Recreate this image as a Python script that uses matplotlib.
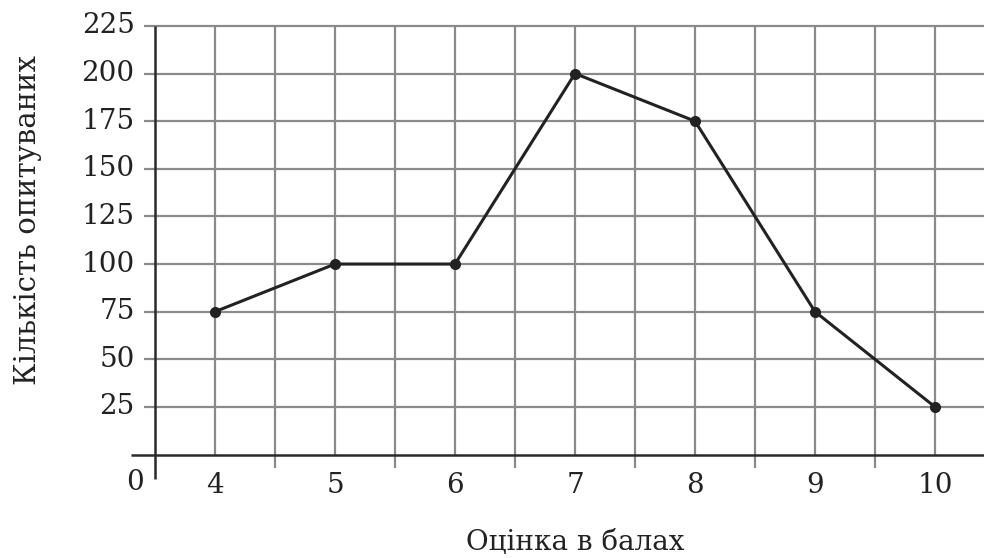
import matplotlib
matplotlib.use("Agg")
from matplotlib import pyplot as plt
import numpy as np

# scores and number of respondents
scores = [4, 5, 6, 7, 8, 9, 10]
counts = [75, 100, 100, 200, 175, 75, 25]
y_ticks = [25, 50, 75, 100, 125, 150, 175, 200, 225]

plt.rcParams.update({
    "font.size": 20,
    "font.family": ["DejaVu Serif"],
})

GRID = "#8a8a8a"
AXIS = "#2a2a2a"


def main():
    fig = plt.figure(figsize=(9.84, 5.58), dpi=100)
    ax = fig.add_axes([0, 0, 1, 1])
    # 120 px per score unit, 1.905 px per respondent
    ax.set_xlim(2.2083, 10.4083)
    ax.set_ylim(-54.3, 238.6)
    ax.axis("off")

    x_right = 10.5
    # horizontal grid, with little stubs left of the y axis
    ax.hlines(y_ticks, 3.408, x_right, color=GRID, lw=1.6, zorder=1)
    # vertical grid: integer lines stop at the x axis, half lines poke below it
    ax.vlines(scores, 0, 225, color=GRID, lw=1.6, zorder=1)
    halves = np.array(scores[:-1]) + 0.5
    ax.vlines(halves, -7.0, 225, color=GRID, lw=1.6, zorder=1)

    # axes
    ax.hlines(0, 3.3, x_right, color=AXIS, lw=1.8, zorder=2)
    ax.vlines(3.5, -12.9, 225, color=AXIS, lw=1.8, zorder=2)

    ax.plot(scores, counts, color="#222222", lw=2.2, marker="o",
            markersize=7, zorder=3)

    for v in y_ticks:
        ax.text(3.33, v, str(v), ha="right", va="center", color="#222222")
    for s in scores:
        ax.text(s, -16.5, str(s), ha="center", va="center", color="#222222")
    ax.text(3.33, -14.5, "0", ha="center", va="center", color="#222222")

    ax.text(7.0, -46.0, "Оцінка в балах", ha="center", va="center",
            fontsize=20, color="#222222")
    ax.text(2.445, 123, "Кількість опитуваних", ha="center", va="center",
            rotation=90, fontsize=21, color="#222222")

    fig.savefig("out.png", dpi=100)


if __name__ == "__main__":
    main()
